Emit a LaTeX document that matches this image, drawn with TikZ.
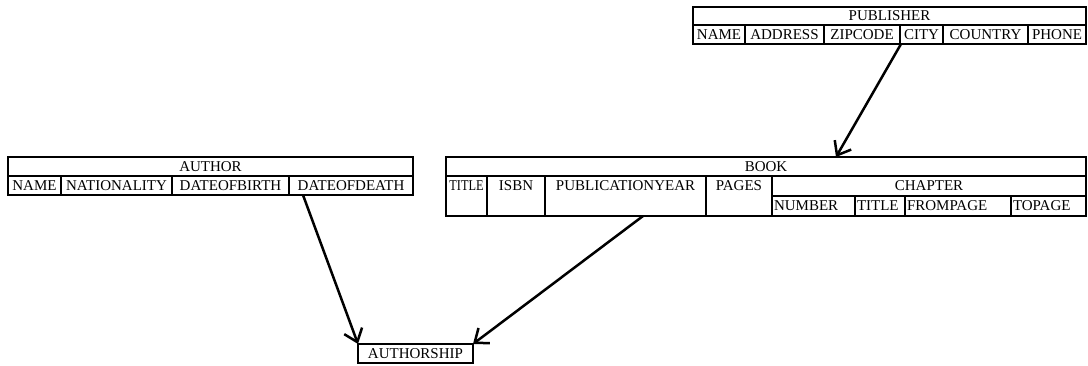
\documentclass[tikz,border=0pt]{standalone}
\usepackage{fontspec}
\usepackage{graphicx}
\setmainfont{Liberation Serif}
\usetikzlibrary{arrows.meta,calc}
\tikzset{
  cell/.style={draw=black, line width=1.3pt, rectangle, inner sep=0pt, outer sep=0pt,
    font=\fontsize{15}{16}\selectfont},
  txt/.style={inner sep=0pt, outer sep=0pt, font=\fontsize{15}{16}\selectfont},
  rel/.style={line width=2.5pt, -{Straight Barb[length=12pt,width=19pt,line width=2.5pt]}}
}
\newcommand\mkcell[6]{%
  \node[cell,minimum width={#4pt-#2pt},minimum height={#5pt-#3pt},anchor=north west] (#1) at (#2,#3) {#6};}
\newcommand\mkcellL[6]{%
  \pgfmathsetlengthmacro\mycw{#4pt-#2pt-4pt}%
  \node[cell,text width=\mycw,align=left,inner xsep=2pt,minimum height={#5pt-#3pt},anchor=north west] (#1) at (#2,#3) {#6};}
\newcommand\mkcellT[6]{%
  \node[cell,minimum width={#4pt-#2pt},minimum height={#5pt-#3pt},anchor=north west] (#1) at (#2,#3) {};
  \node[txt] (#1-t) at ($(#1.north)+(0,10)$) {#6};}
\begin{document}
\begin{tikzpicture}[x=1pt,y=-1pt]
\useasboundingbox (0,0) rectangle (1088,365);
% PUBLISHER
\mkcell{pub}{693}{7}{1086}{25}{PUBLISHER}
\mkcell{pname}{693}{25}{745}{44}{NAME}
\mkcell{paddr}{745}{25}{824}{44}{ADDRESS}
\mkcell{pzip}{824}{25}{900}{44}{ZIPCODE}
\mkcell{pcity}{900}{25}{943}{44}{CITY}
\mkcell{pcountry}{943}{25}{1028}{44}{COUNTRY}
\mkcell{pphone}{1028}{25}{1086}{44}{PHONE}
% AUTHOR
\mkcell{auth}{8}{157}{413}{176}{AUTHOR}
\mkcell{aname}{8}{176}{61}{195}{NAME}
\mkcell{anat}{61}{176}{172}{195}{NATIONALITY}
\mkcell{adob}{172}{176}{289}{195}{DATEOFBIRTH}
\mkcell{adod}{289}{176}{413}{195}{DATEOFDEATH}
% BOOK
\mkcell{book}{446}{157}{1086}{176}{BOOK}
\mkcellT{btitle}{446}{176}{487}{216}{\scalebox{0.82}[1]{TITLE}}
\mkcellT{bisbn}{487}{176}{545}{216}{ISBN}
\mkcellT{bpub}{545}{176}{706}{216}{PUBLICATIONYEAR}
\mkcellT{bpages}{706}{176}{772}{216}{PAGES}
\mkcell{chap}{772}{176}{1086}{196}{CHAPTER}
\mkcellL{cnum}{772}{196}{855}{216}{NUMBER}
\mkcellL{ctitle}{855}{196}{905}{216}{TITLE}
\mkcellL{cfrom}{905}{196}{1011}{216}{FROMPAGE}
\mkcellL{cto}{1011}{196}{1086}{216}{TOPAGE}
% AUTHORSHIP
\mkcell{ship}{358}{344}{473}{363}{AUTHORSHIP}
% connectors
\coordinate (pubstart) at ($(pcity.south west)+(1,0)$);
\coordinate (booktop) at ($(book.north west)+(390,0)$);
\coordinate (authstart) at ($(adod.south west)+(14,0)$);
\coordinate (bookstart) at ($(bpub.south west)+(98,0)$);
\draw[rel] (pubstart) -- (booktop);
\draw[rel] (authstart) -- (ship.north west);
\draw[rel] (bookstart) -- (ship.north east);
\end{tikzpicture}
\end{document}
